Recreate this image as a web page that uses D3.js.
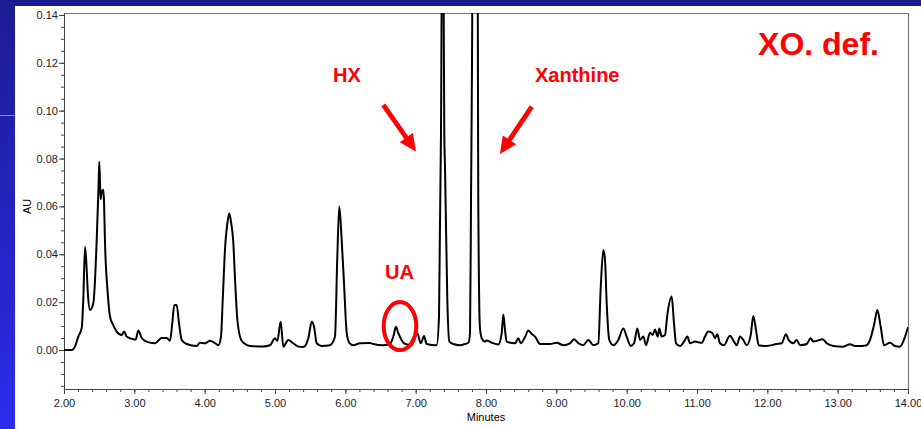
<!DOCTYPE html>
<html>
<head>
<meta charset="utf-8">
<script src="https://cdn.jsdelivr.net/npm/d3@7"></script>
<style>
  html, body { margin: 0; padding: 0; background: #1f1f9c; }
  #chart { width: 921px; height: 429px; }
  .axis text { font-family: "Liberation Sans Narrow", "Liberation Sans", Arial, sans-serif; font-size: 11px; fill: #222; }
  .axis line, .axis path { stroke: #444; }
  .note { font-family: "Liberation Sans", Arial, sans-serif; font-weight: bold; fill: #ff0000; }
</style>
</head>
<body>
<div id="chart"></div>
<script>
// retention time (minutes) and absorbance (AU)
const minutes = [2.00, 2.11, 2.156, 2.203, 2.252, 2.274, 2.299, 2.32, 2.341, 2.37, 2.417, 2.465, 2.478, 2.49, 2.502,
  2.521, 2.536, 2.559, 2.569, 2.583, 2.621, 2.654, 2.70, 2.749, 2.82, 2.857, 2.89, 2.985, 3.02, 3.056, 3.105, 3.176,
  3.294, 3.389, 3.46, 3.507, 3.54, 3.568, 3.602, 3.635, 3.674, 3.745, 3.887, 3.934, 4.005, 4.076, 4.147, 4.194, 4.232,
  4.257, 4.289, 4.328, 4.35, 4.374, 4.407, 4.431, 4.467, 4.527, 4.645, 4.834, 4.929, 5.0, 5.033, 5.081, 5.118, 5.189,
  5.26, 5.331, 5.402, 5.474, 5.522, 5.555, 5.593, 5.664, 5.782, 5.853, 5.886, 5.914, 5.948, 5.981, 6.02, 6.057, 6.113,
  6.209, 6.351, 6.398, 6.54, 6.635, 6.682, 6.72, 6.753, 6.80, 6.834, 6.943, 7.023, 7.072, 7.119, 7.156, 7.298, 7.332,
  7.36, 7.384, 7.407, 7.417, 7.45, 7.479, 7.535, 7.631, 7.702, 7.749, 7.773, 7.787, 7.801, 7.815, 7.847, 7.879, 7.89,
  7.913, 7.939, 7.986, 8.01, 8.08, 8.175, 8.223, 8.246, 8.27, 8.294, 8.413, 8.46, 8.494, 8.555, 8.602, 8.65, 8.697,
  8.768, 8.91, 9.005, 9.1, 9.194, 9.251, 9.313, 9.384, 9.455, 9.526, 9.597, 9.631, 9.668, 9.692, 9.716, 9.753, 9.81,
  9.881, 9.952, 10.0, 10.058, 10.105, 10.152, 10.19, 10.237, 10.275, 10.332, 10.37, 10.403, 10.441, 10.464, 10.498,
  10.545, 10.578, 10.64, 10.673, 10.702, 10.759, 10.816, 10.863, 10.901, 10.972, 11.067, 11.114, 11.161, 11.222,
  11.255, 11.288, 11.327, 11.384, 11.469, 11.526, 11.564, 11.612, 11.658, 11.707, 11.764, 11.80, 11.839, 11.877,
  11.991, 12.133, 12.204, 12.265, 12.298, 12.37, 12.417, 12.465, 12.56, 12.616, 12.654, 12.702, 12.787, 12.844,
  12.938, 13.08, 13.176, 13.247, 13.342, 13.413, 13.46, 13.517, 13.564, 13.612, 13.659, 13.744, 13.815, 13.886,
  13.957, 14.0];
const absorbance = [0.0, 0.0, 0.0014, 0.0056, 0.0092, 0.021, 0.043, 0.035, 0.023, 0.0167, 0.0196, 0.046, 0.057, 0.067, 0.0787,
  0.063, 0.066, 0.067, 0.062, 0.045, 0.024, 0.014, 0.0104, 0.0077, 0.0063, 0.0077, 0.0056, 0.0045, 0.0044, 0.0081, 0.005, 0.0035,
  0.0028, 0.005, 0.005, 0.0039, 0.0113, 0.0188, 0.0188, 0.0113, 0.0042, 0.0025, 0.0017, 0.003, 0.0028, 0.0039, 0.0029, 0.002, 0.0056,
  0.021, 0.042, 0.054, 0.057, 0.0536, 0.045, 0.030, 0.012, 0.0038, 0.0017, 0.0015, 0.002, 0.0049, 0.0038, 0.0118, 0.0014, 0.0042,
  0.0028, 0.0014, 0.0012, 0.0049, 0.0118, 0.0097, 0.0028, 0.0017, 0.002, 0.0056, 0.039, 0.0599, 0.046, 0.028, 0.007, 0.003, 0.002,
  0.0028, 0.0029, 0.0025, 0.002, 0.0025, 0.0056, 0.0097, 0.007, 0.0042, 0.0028, 0.002, 0.007, 0.0028, 0.0058, 0.0025, 0.002, 0.0139,
  0.0906, 0.22, 0.09, 0.0766, 0.021, 0.0035, 0.0025, 0.002, 0.0025, 0.003, 0.007, 0.063, 0.12, 0.20, 0.45, 0.20, 0.063,
  0.0097, 0.0049, 0.0035, 0.004, 0.0031, 0.0023, 0.007, 0.0148, 0.0084, 0.0035, 0.0028, 0.0049, 0.0028, 0.0054, 0.0081, 0.0067, 0.0056,
  0.0025, 0.0025, 0.003, 0.002, 0.0028, 0.0045, 0.0028, 0.002, 0.0042, 0.002, 0.0028, 0.026, 0.0418, 0.0376, 0.0195, 0.0042, 0.002,
  0.0042, 0.009, 0.0056, 0.0017, 0.0028, 0.009, 0.0042, 0.0056, 0.002, 0.0072, 0.0063, 0.0086, 0.0056, 0.009, 0.0056,
  0.0063, 0.0146, 0.0223, 0.0112, 0.0028, 0.0017, 0.0035, 0.0056, 0.0028, 0.0035, 0.003, 0.0056, 0.0077, 0.007,
  0.0049, 0.0066, 0.0028, 0.002, 0.006, 0.0035, 0.002, 0.0056, 0.0042, 0.002, 0.0063, 0.0142, 0.0084, 0.002,
  0.0017, 0.0025, 0.0028, 0.0066, 0.0045, 0.0028, 0.0042, 0.002, 0.0025, 0.0049, 0.0035, 0.0038, 0.0045, 0.0028,
  0.0017, 0.0014, 0.0024, 0.0017, 0.0017, 0.002, 0.0042, 0.0104, 0.0167, 0.0097, 0.002, 0.003, 0.0017, 0.0014,
  0.0054, 0.0095];

const xMajorTicks = [2, 3, 4, 5, 6, 7, 8, 9, 10, 11, 12, 13, 14];
const yMajorTicks = [0, 0.02, 0.04, 0.06, 0.08, 0.10, 0.12, 0.14];

// annotation labels (in data units)
const labels = [
  { text: "HX", t: 5.825, v: 0.112, size: 20 },
  { text: "Xanthine", t: 8.697, v: 0.112, size: 20 },
  { text: "UA", t: 6.564, v: 0.0297, size: 20 },
  { text: "XO. def.", t: 11.868, v: 0.1233, size: 32 }
];
const arrows = [
  { t0: 6.54, v0: 0.1024, t1: 7.005, v1: 0.0829 },
  { t0: 8.65, v0: 0.1017, t1: 8.199, v1: 0.0819 }
];
const circled = { t: 6.777, v: 0.010 };

const W = 921, H = 429;
const margin = { left: 64, right: 13, top: 13, bottom: 40 };

const svg = d3.select("#chart").append("svg")
  .attr("width", W).attr("height", H);

// blue slide background
const defs = svg.append("defs");
const grad = defs.append("linearGradient").attr("id", "bg").attr("x1", 0).attr("y1", 0).attr("x2", 0).attr("y2", 1);
grad.append("stop").attr("offset", "0%").attr("stop-color", "#1c1c92");
grad.append("stop").attr("offset", "100%").attr("stop-color", "#2c2cec");
svg.append("rect").attr("width", W).attr("height", H).attr("fill", "url(#bg)");
svg.append("line").attr("x1", 0).attr("x2", 15).attr("y1", 115.5).attr("y2", 115.5)
  .attr("stroke", "#8a8ad8").attr("stroke-width", 1);
svg.append("rect").attr("x", 15).attr("y", 6).attr("width", W - 15).attr("height", H - 6).attr("fill", "#fff");

const x = d3.scaleLinear().domain([2, 14]).range([margin.left, W - margin.right]);
const y = d3.scaleLinear().domain([-0.0163, 0.1408]).range([H - margin.bottom, margin.top]);

// frame
svg.append("path")
  .attr("d", `M${x(2)},${y(0.1408) + 0.5}H${x(14) + 0.5}V${y(-0.0163)}`)
  .attr("fill", "none").attr("stroke", "#777").attr("stroke-width", 1.2);

// x axis
const xMinor = d3.range(2, 14.001, 0.2);
svg.append("g").attr("class", "axis")
  .attr("transform", `translate(0, ${y(-0.0163)})`)
  .call(d3.axisBottom(x).tickValues(xMinor).tickSize(3).tickFormat(""))
  .select(".domain").remove();
svg.append("g").attr("class", "axis")
  .attr("transform", `translate(0, ${y(-0.0163)})`)
  .call(d3.axisBottom(x).tickValues(xMajorTicks).tickSize(5).tickSizeOuter(0).tickFormat(d3.format(".2f")))
  .call(g => g.selectAll("text").attr("dy", "0.95em"));

// y axis
const yMinor = d3.range(-0.015, 0.1401, 0.005);
svg.append("g").attr("class", "axis")
  .attr("transform", `translate(${x(2)}, 0)`)
  .call(d3.axisLeft(y).tickValues(yMinor).tickSize(3).tickFormat(""))
  .select(".domain").remove();
svg.append("g").attr("class", "axis")
  .attr("transform", `translate(${x(2)}, 0)`)
  .call(d3.axisLeft(y).tickValues(yMajorTicks).tickSize(5).tickSizeOuter(0).tickPadding(1).tickFormat(d3.format(".2f")));

svg.append("text").attr("class", "axis")
  .attr("x", (x(2) + x(14)) / 2).attr("y", 421)
  .attr("text-anchor", "middle")
  .style("font-family", "'Liberation Sans Narrow', Arial, sans-serif").style("font-size", "11px")
  .text("Minutes");
svg.append("text")
  .attr("transform", `translate(31, ${y(0.06)}) rotate(-90)`)
  .attr("text-anchor", "middle")
  .style("font-family", "'Liberation Sans Narrow', Arial, sans-serif").style("font-size", "11px")
  .text("AU");

// trace, clipped to the plot area
defs.append("clipPath").attr("id", "plot")
  .append("rect").attr("x", x(2)).attr("y", y(0.1408))
  .attr("width", x(14) - x(2)).attr("height", y(-0.0163) - y(0.1408));

const trace = minutes.map((t, i) => [t, absorbance[i]]);
svg.append("path")
  .datum(trace)
  .attr("clip-path", "url(#plot)")
  .attr("fill", "none")
  .attr("stroke", "#000")
  .attr("stroke-width", 2)
  .attr("stroke-linejoin", "round")
  .attr("d", d3.line().x(d => x(d[0])).y(d => y(d[1])).curve(d3.curveMonotoneX));

// annotations
svg.selectAll(".note")
  .data(labels)
  .join("text")
  .attr("class", "note")
  .attr("x", d => x(d.t))
  .attr("y", d => y(d.v))
  .style("font-size", d => d.size + "px")
  .text(d => d.text);

function arrowPath(a) {
  const x0 = x(a.t0), y0 = y(a.v0), x1 = x(a.t1), y1 = y(a.v1);
  const len = Math.hypot(x1 - x0, y1 - y0);
  const ux = (x1 - x0) / len, uy = (y1 - y0) / len;
  const px = -uy, py = ux;
  const sw = 2.4, hw = 8, hl = 17;
  const bx = x1 - ux * hl, by = y1 - uy * hl;
  const pts = [
    [x0 + px * sw, y0 + py * sw], [bx + px * sw, by + py * sw], [bx + px * hw, by + py * hw],
    [x1, y1],
    [bx - px * hw, by - py * hw], [bx - px * sw, by - py * sw], [x0 - px * sw, y0 - py * sw]
  ];
  return "M" + pts.map(p => p.join(",")).join("L") + "Z";
}
svg.selectAll(".arrow")
  .data(arrows)
  .join("path")
  .attr("class", "arrow")
  .attr("fill", "#ff0000")
  .attr("d", arrowPath);

svg.append("ellipse")
  .attr("cx", x(circled.t)).attr("cy", y(circled.v))
  .attr("rx", 16.3).attr("ry", 24)
  .attr("fill", "none").attr("stroke", "#ff0000").attr("stroke-width", 4);
</script>
</body>
</html>
